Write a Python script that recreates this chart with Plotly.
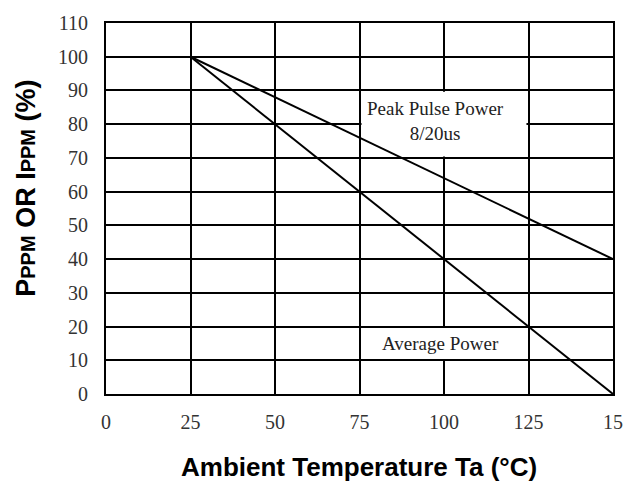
import plotly.graph_objects as go

# Data
temperature = [25, 50, 75, 100, 125, 150]
peak_pulse_power = [100, 88, 76, 64, 52, 40]
average_power = [100, 80, 60, 40, 20, 0]

x_tickvals = [0, 25, 50, 75, 100, 125, 150]
x_ticktext = ["0", "25", "50", "75", "100", "125", "15"]
y_tickvals = list(range(0, 111, 10))

SERIF = "Liberation Serif, Times New Roman, serif"
SANS = "Liberation Sans, Arial, sans-serif"

fig = go.Figure()
fig.add_trace(go.Scatter(x=temperature, y=peak_pulse_power, mode="lines",
                         line=dict(color="black", width=2), name="Peak Pulse Power",
                         showlegend=False, hoverinfo="skip"))
fig.add_trace(go.Scatter(x=temperature, y=average_power, mode="lines",
                         line=dict(color="black", width=2), name="Average Power",
                         showlegend=False, hoverinfo="skip"))

# white label boxes that hide the grid behind the labels
for (x0, x1, y0, y1) in [(75.6, 124.4, 70.4, 89.6), (75.6, 124.4, 10.4, 19.6)]:
    fig.add_shape(type="rect", xref="x", yref="y", x0=x0, x1=x1, y0=y0, y1=y1,
                  fillcolor="white", line=dict(width=0), layer="between")

fig.add_annotation(x=97.5, y=80.8, xref="x", yref="y", text="Peak Pulse Power<br>8/20us",
                   showarrow=False, font=dict(family=SERIF, size=19, color="#222"))
fig.add_annotation(x=99, y=15, xref="x", yref="y", text="Average Power",
                   showarrow=False, font=dict(family=SERIF, size=19, color="#222"))

fig.add_annotation(xref="paper", yref="paper", x=-0.1585, y=0.555,
                   text="<b>P<span style='font-size:20px'>PPM</span> OR I<span style='font-size:20px'>PPM</span> (%)</b>",
                   textangle=-90, showarrow=False, xanchor="center", yanchor="middle",
                   font=dict(family=SANS, size=27, color="black"))
fig.add_annotation(xref="paper", yref="paper", x=0.4985, y=-0.196,
                   text="<b>Ambient Temperature Ta (°C)</b>",
                   showarrow=False, xanchor="center", yanchor="middle",
                   font=dict(family=SANS, size=26, color="black"))

fig.update_xaxes(range=[0, 150], tickvals=x_tickvals, ticktext=x_ticktext,
                 showgrid=True, gridcolor="black", gridwidth=2,
                 showline=True, linecolor="black", linewidth=2, mirror=True,
                 ticks="", ticklabelstandoff=9, zeroline=False,
                 tickfont=dict(family=SERIF, size=20, color="#333"))
fig.update_yaxes(range=[0, 110], tickvals=y_tickvals,
                 showgrid=True, gridcolor="black", gridwidth=2,
                 showline=True, linecolor="black", linewidth=2, mirror=True,
                 ticks="", ticklabelstandoff=12, zeroline=False,
                 tickfont=dict(family=SERIF, size=20, color="#333"))

fig.update_layout(width=635, height=484, margin=dict(l=106, r=18, t=20, b=90),
                  paper_bgcolor="white", plot_bgcolor="white", showlegend=False)

fig.write_html("out.html", config={"displayModeBar": False},
               post_script="document.body.style.margin='0';")
